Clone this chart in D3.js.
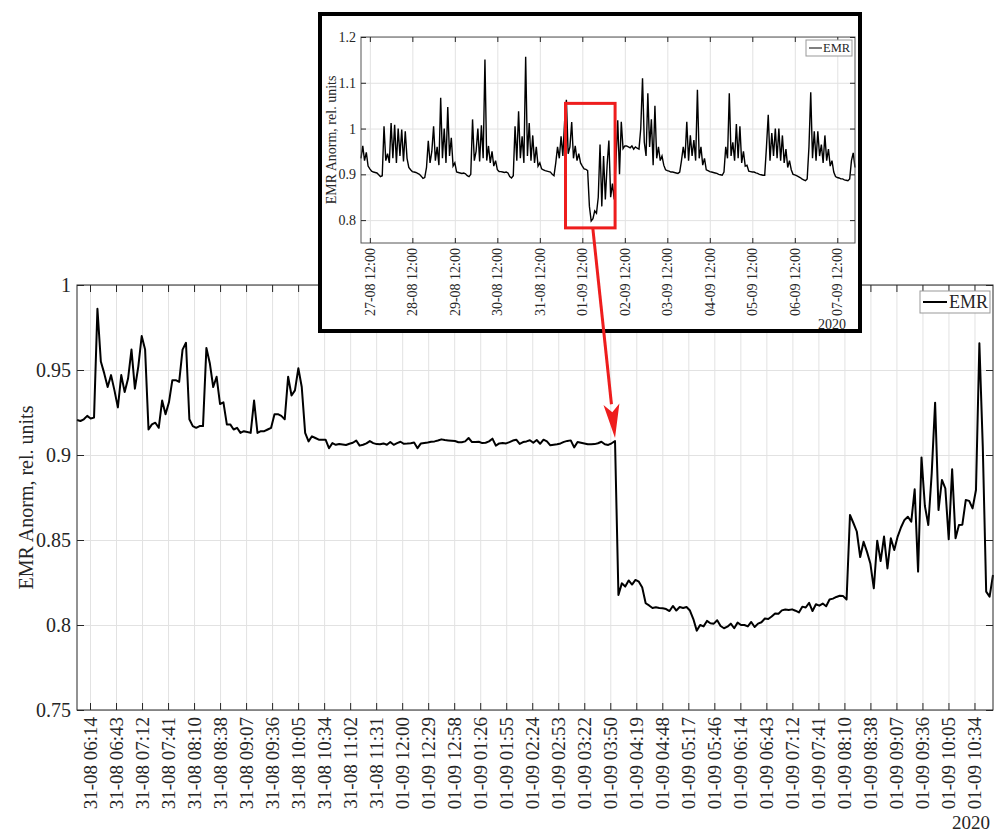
<!DOCTYPE html>
<html>
<head>
<meta charset="utf-8">
<script src="https://cdn.jsdelivr.net/npm/d3@7"></script>
<style>
  body { margin: 0; background: #fff; }
  svg { display: block; font-family: "Liberation Serif", "Times New Roman", serif; }
</style>
</head>
<body>
<svg id="chart" width="997" height="832"></svg>
<script>
// ---- data ----
// main panel: EMR samples, x measured in tick intervals (first sample half a tick before first label)
const mainTickLabels = [
  "31-08 06:14", "31-08 06:43", "31-08 07:12", "31-08 07:41", "31-08 08:10", "31-08 08:38",
  "31-08 09:07", "31-08 09:36", "31-08 10:05", "31-08 10:34", "31-08 11:02", "31-08 11:31",
  "01-09 12:00", "01-09 12:29", "01-09 12:58", "01-09 01:26", "01-09 01:55", "01-09 02:24",
  "01-09 02:53", "01-09 03:22", "01-09 03:50", "01-09 04:19", "01-09 04:48", "01-09 05:17",
  "01-09 05:46", "01-09 06:14", "01-09 06:43", "01-09 07:12", "01-09 07:41", "01-09 08:10",
  "01-09 08:38", "01-09 09:07", "01-09 09:36", "01-09 10:05", "01-09 10:34"
];
const mainYTicks = [0.75, 0.8, 0.85, 0.9, 0.95, 1];
const mainValues = [
  0.9206, 0.920, 0.921, 0.923, 0.9215, 0.922, 0.986, 0.955, 0.948, 0.940,
  0.947, 0.938, 0.928, 0.947, 0.937, 0.945, 0.962, 0.939, 0.952, 0.970,
  0.962, 0.915, 0.918, 0.919, 0.916, 0.932, 0.924, 0.931, 0.944, 0.944,
  0.943, 0.962, 0.966, 0.921, 0.917, 0.916, 0.917, 0.917, 0.963, 0.954,
  0.940, 0.946, 0.930, 0.931, 0.918, 0.918, 0.915, 0.916, 0.913, 0.914,
  0.9135, 0.913, 0.932, 0.913, 0.914, 0.914, 0.915, 0.916, 0.924, 0.924,
  0.923, 0.921, 0.946, 0.935, 0.938, 0.951, 0.940, 0.913, 0.908, 0.911,
  0.910, 0.909, 0.909, 0.909, 0.904, 0.907, 0.9060, 0.9065, 0.9062, 0.9059,
  0.9066, 0.9072, 0.9085, 0.9055, 0.9060, 0.9068, 0.9082, 0.9070, 0.9064, 0.9063,
  0.9068, 0.9060, 0.9076, 0.9060, 0.9070, 0.9078, 0.9066, 0.9067, 0.9069, 0.9073,
  0.9040, 0.9068, 0.9071, 0.9074, 0.9078, 0.9080, 0.9085, 0.9092, 0.9088, 0.9086,
  0.9084, 0.9082, 0.9075, 0.9075, 0.9080, 0.9100, 0.9076, 0.9076, 0.9078, 0.9070,
  0.9072, 0.9080, 0.9096, 0.9055, 0.9068, 0.9070, 0.9068, 0.9076, 0.9085, 0.9090,
  0.9065, 0.9076, 0.9080, 0.9087, 0.9072, 0.9088, 0.9066, 0.9090, 0.9080, 0.9057,
  0.9060, 0.9063, 0.9068, 0.9077, 0.9083, 0.9086, 0.9045, 0.9076, 0.9072, 0.9068,
  0.9063, 0.9063, 0.9064, 0.9069, 0.9078, 0.9063, 0.9059, 0.9069, 0.9082, 0.8177,
  0.8245, 0.8226, 0.8262, 0.8238, 0.8265, 0.8255, 0.8220, 0.8128, 0.8115, 0.8100,
  0.8104, 0.8100, 0.8098, 0.8094, 0.8082, 0.8112, 0.8085, 0.8106, 0.8100, 0.8106,
  0.8085, 0.8035, 0.7967, 0.8000, 0.7992, 0.8024, 0.8010, 0.8008, 0.8028, 0.7994,
  0.7981, 0.7990, 0.8008, 0.7981, 0.8014, 0.8000, 0.8000, 0.7992, 0.8018, 0.7988,
  0.8008, 0.8016, 0.8038, 0.8035, 0.8050, 0.8068, 0.8066, 0.8086, 0.8091, 0.8088,
  0.8092, 0.8084, 0.8074, 0.8108, 0.8103, 0.8130, 0.8082, 0.8122, 0.8114, 0.8126,
  0.8110, 0.8150, 0.8155, 0.8165, 0.8172, 0.8170, 0.8150, 0.8647, 0.8600, 0.8550,
  0.8400, 0.8490, 0.8430, 0.8360, 0.8216, 0.8496, 0.8376, 0.8520, 0.8333, 0.8510,
  0.8441, 0.8520, 0.8575, 0.8618, 0.8637, 0.8608, 0.8798, 0.8314, 0.8986, 0.8700,
  0.8588, 0.8892, 0.9308, 0.8676, 0.8853, 0.8804, 0.8504, 0.8916, 0.8510, 0.8588,
  0.8590, 0.8735, 0.8730, 0.8686, 0.8794, 0.9657, 0.9049, 0.8196, 0.8167, 0.8294
];
const mainStart = -0.5;     // in tick intervals
const mainStep = 0.1309;    // sample spacing in tick intervals

// inset: hourly EMR, hours counted from 27-08 12:00
const insetTickLabels = [
  "27-08 12:00", "28-08 12:00", "29-08 12:00", "30-08 12:00", "31-08 12:00", "01-09 12:00",
  "02-09 12:00", "03-09 12:00", "04-09 12:00", "05-09 12:00", "06-09 12:00", "07-09 12:00"
];
const insetYTicks = [0.8, 0.9, 1, 1.1, 1.2];
const insetValues = [
  0.935, 0.962, 0.930, 0.948, 0.918,
  0.912, 0.907, 0.905, 0.904, 0.903, 0.899, 0.895, 0.897,
  1.005, 0.930, 0.945, 0.925, 1.012, 0.935, 1.008, 0.925, 1.000, 0.940, 0.998, 0.928, 0.994, 0.935, 0.915,
  0.910, 0.906, 0.905, 0.904, 0.902, 0.900, 0.896, 0.891, 0.893,
  0.915, 0.973, 0.925, 0.950, 1.005, 0.930, 0.960, 0.920, 1.067, 0.935, 1.000, 0.925, 1.047, 0.940, 0.980, 0.918, 0.925,
  0.905, 0.904, 0.903, 0.902, 0.903, 0.901, 0.897, 0.895, 0.900,
  1.020, 0.930, 0.950, 1.000, 0.928, 1.007, 0.935, 1.151, 0.930, 0.962, 0.925, 0.950, 0.918, 0.930, 0.910,
  0.906, 0.906, 0.905, 0.904, 0.905, 0.903, 0.895, 0.892, 0.897,
  1.005, 0.930, 1.038, 0.935, 0.983, 0.925, 1.157, 0.940, 1.012, 0.930, 0.985, 0.925, 0.960, 0.918, 0.925,
  0.912, 0.910, 0.908, 0.907, 0.906, 0.905, 0.900, 0.897, 0.925,
  0.960, 0.935, 0.983, 0.940, 1.016, 1.063, 0.945, 0.960, 1.014, 0.935, 0.962, 0.930, 0.945, 0.925, 0.918,
  0.912, 0.911, 0.908, 0.830, 0.798,
  0.803, 0.820, 0.815, 0.850, 0.965, 0.830, 0.940, 0.845, 0.920, 0.974, 0.850, 0.880, 0.845,
  0.930, 1.018, 0.900, 1.015,
  0.956, 0.962, 0.962, 0.960, 0.958, 0.962, 0.955, 0.960, 0.957, 0.955,
  1.000, 1.110, 0.970, 0.940, 1.077, 0.960, 1.020, 0.920, 1.050, 0.935, 0.960, 0.930, 0.940, 0.920,
  0.910, 0.908, 0.907, 0.905, 0.905, 0.904, 0.903, 0.902, 0.905,
  0.930, 0.960, 0.935, 1.015, 0.930, 0.985, 0.940, 0.975, 0.930, 1.085, 0.935, 0.960, 0.920, 0.935, 0.910,
  0.908, 0.906, 0.905, 0.904, 0.903, 0.902, 0.900, 0.899, 0.898, 0.905,
  0.960, 0.935, 1.077, 0.940, 0.970, 0.930, 1.010, 0.935, 1.005, 0.925, 0.950, 0.918, 0.920,
  0.907, 0.906, 0.905, 0.905, 0.903, 0.902, 0.900, 0.899, 0.898, 0.898,
  0.960, 1.030, 0.930, 0.990, 0.940, 1.000, 0.935, 1.000, 0.930, 0.985, 0.925, 0.955, 0.915, 0.930, 0.910,
  0.900, 0.899, 0.897, 0.895, 0.893, 0.890, 0.888, 0.886, 0.890,
  0.960, 1.079, 0.935, 0.994, 0.930, 0.994, 0.940, 0.965, 0.925, 0.985, 0.930, 0.955, 0.918, 0.930, 0.905,
  0.895, 0.893, 0.892, 0.890, 0.890, 0.888, 0.887, 0.886, 0.890, 0.930, 0.947, 0.915
];
const insetStart = -5;      // hours
// highlighted window in the inset (hours, EMR)
const highlightHours = [110.5, 138.5];
const highlightEMR = [0.783, 1.055];

const mainData = mainValues.map((v, i) => ({t: mainStart + i * mainStep, v}));
const insetData = insetValues.map((v, i) => ({h: insetStart + i, v}));

const fmt = d => String(+d.toFixed(2));
const axisColor = "#262626";
const gridColor = "#e2e2e2";
const serif = '"Liberation Serif", "Times New Roman", serif';

const svg = d3.select("#chart");

// ---- main panel ----
const M = {left: 77, top: 285, right: 993, bottom: 710};

const x = d3.scaleLinear()
    .domain(d3.extent(mainData, d => d.t))
    .range([M.left, M.right]);

const y = d3.scaleLinear()
    .domain([0.75, 1])
    .range([M.bottom, M.top]);

const tickIdx = d3.range(mainTickLabels.length);

// grid
svg.append("g")
    .attr("transform", `translate(0,${M.bottom})`)
    .call(d3.axisBottom(x).tickValues(tickIdx).tickSize(-(M.bottom - M.top)).tickFormat(""))
    .call(g => g.select(".domain").remove())
    .call(g => g.selectAll("line").attr("stroke", gridColor));

svg.append("g")
    .attr("transform", `translate(${M.left},0)`)
    .call(d3.axisLeft(y).tickValues(mainYTicks).tickSize(-(M.right - M.left)).tickFormat(""))
    .call(g => g.select(".domain").remove())
    .call(g => g.selectAll("line").attr("stroke", gridColor));

// line
svg.append("path")
    .datum(mainData)
    .attr("fill", "none")
    .attr("stroke", "#000")
    .attr("stroke-width", 2)
    .attr("stroke-linejoin", "round")
    .attr("d", d3.line().x(d => x(d.t)).y(d => y(d.v)));

// box
svg.append("rect")
    .attr("x", M.left).attr("y", M.top)
    .attr("width", M.right - M.left).attr("height", M.bottom - M.top)
    .attr("fill", "none").attr("stroke", axisColor).attr("stroke-width", 1);

// bottom axis
svg.append("g")
    .attr("transform", `translate(0,${M.bottom})`)
    .call(d3.axisBottom(x).tickValues(tickIdx).tickFormat(i => mainTickLabels[i]).tickSize(-7))
    .call(g => g.select(".domain").remove())
    .call(g => g.selectAll("line").attr("stroke", axisColor))
    .call(g => g.selectAll("text")
        .attr("transform", "rotate(-90)")
        .attr("x", -7).attr("y", 0).attr("dy", "0.33em")
        .style("text-anchor", "end")
        .attr("fill", axisColor))
    .attr("font-family", serif).attr("font-size", 19);

// top axis ticks
svg.append("g")
    .attr("transform", `translate(0,${M.top})`)
    .call(d3.axisTop(x).tickValues(tickIdx).tickFormat("").tickSize(-7))
    .call(g => g.select(".domain").remove())
    .call(g => g.selectAll("line").attr("stroke", axisColor));

// left axis
svg.append("g")
    .attr("transform", `translate(${M.left},0)`)
    .call(d3.axisLeft(y).tickValues(mainYTicks).tickFormat(fmt).tickSize(-7).tickPadding(6))
    .call(g => g.select(".domain").remove())
    .call(g => g.selectAll("line").attr("stroke", axisColor))
    .call(g => g.selectAll("text").attr("fill", axisColor))
    .attr("font-family", serif).attr("font-size", 20);

// right axis ticks
svg.append("g")
    .attr("transform", `translate(${M.right},0)`)
    .call(d3.axisRight(y).tickValues(mainYTicks).tickFormat("").tickSize(-7))
    .call(g => g.select(".domain").remove())
    .call(g => g.selectAll("line").attr("stroke", axisColor));

// y label
svg.append("text")
    .attr("transform", `translate(33,${(M.top + M.bottom) / 2}) rotate(-90)`)
    .attr("text-anchor", "middle")
    .attr("font-size", 20)
    .attr("fill", axisColor)
    .text("EMR Anorm, rel. units");

// year
svg.append("text")
    .attr("x", 990).attr("y", 829)
    .attr("text-anchor", "end")
    .attr("font-size", 19)
    .attr("fill", axisColor)
    .text("2020");

// legend
const leg = svg.append("g").attr("transform", `translate(${M.right - 73},${M.top + 6})`);
leg.append("rect").attr("width", 70).attr("height", 22)
    .attr("fill", "#fff").attr("stroke", "#999").attr("stroke-width", 1);
leg.append("line").attr("x1", 3).attr("x2", 27).attr("y1", 11).attr("y2", 11)
    .attr("stroke", "#000").attr("stroke-width", 2);
leg.append("text").attr("x", 29).attr("y", 11).attr("dy", "0.35em")
    .attr("font-size", 18).attr("fill", axisColor).text("EMR");

// ---- inset ----
const frame = {x: 320, y: 14, w: 540, h: 317};
svg.append("rect")
    .attr("x", frame.x).attr("y", frame.y)
    .attr("width", frame.w).attr("height", frame.h)
    .attr("fill", "#fff").attr("stroke", "#000").attr("stroke-width", 4);

const I = {left: 361, top: 37, right: 855, bottom: 243};

const xi = d3.scaleLinear()
    .domain(d3.extent(insetData, d => d.h))
    .range([I.left, I.right]);

const yi = d3.scaleLinear()
    .domain([0.75, 1.2])
    .range([I.bottom, I.top]);

const insetTickHours = insetTickLabels.map((_, i) => i * 24);

svg.append("g")
    .attr("transform", `translate(0,${I.bottom})`)
    .call(d3.axisBottom(xi).tickValues(insetTickHours).tickSize(-(I.bottom - I.top)).tickFormat(""))
    .call(g => g.select(".domain").remove())
    .call(g => g.selectAll("line").attr("stroke", gridColor));

svg.append("g")
    .attr("transform", `translate(${I.left},0)`)
    .call(d3.axisLeft(yi).tickValues(insetYTicks).tickSize(-(I.right - I.left)).tickFormat(""))
    .call(g => g.select(".domain").remove())
    .call(g => g.selectAll("line").attr("stroke", gridColor));

svg.append("path")
    .datum(insetData)
    .attr("fill", "none")
    .attr("stroke", "#000")
    .attr("stroke-width", 1.4)
    .attr("d", d3.line().x(d => xi(d.h)).y(d => yi(d.v)));

svg.append("rect")
    .attr("x", I.left).attr("y", I.top)
    .attr("width", I.right - I.left).attr("height", I.bottom - I.top)
    .attr("fill", "none").attr("stroke", "#555").attr("stroke-width", 1);

svg.append("g")
    .attr("transform", `translate(0,${I.bottom})`)
    .call(d3.axisBottom(xi).tickValues(insetTickHours).tickFormat((d, i) => insetTickLabels[i]).tickSize(-5))
    .call(g => g.select(".domain").remove())
    .call(g => g.selectAll("line").attr("stroke", axisColor))
    .call(g => g.selectAll("text")
        .attr("transform", "rotate(-90)")
        .attr("x", -5).attr("y", 0).attr("dy", "0.33em")
        .style("text-anchor", "end")
        .attr("fill", axisColor))
    .attr("font-family", serif).attr("font-size", 14);

svg.append("g")
    .attr("transform", `translate(0,${I.top})`)
    .call(d3.axisTop(xi).tickValues(insetTickHours).tickFormat("").tickSize(-5))
    .call(g => g.select(".domain").remove())
    .call(g => g.selectAll("line").attr("stroke", axisColor));

svg.append("g")
    .attr("transform", `translate(${I.left},0)`)
    .call(d3.axisLeft(yi).tickValues(insetYTicks).tickFormat(fmt).tickSize(-5).tickPadding(5))
    .call(g => g.select(".domain").remove())
    .call(g => g.selectAll("line").attr("stroke", axisColor))
    .call(g => g.selectAll("text").attr("fill", axisColor))
    .attr("font-family", serif).attr("font-size", 14);

svg.append("g")
    .attr("transform", `translate(${I.right},0)`)
    .call(d3.axisRight(yi).tickValues(insetYTicks).tickFormat("").tickSize(-5))
    .call(g => g.select(".domain").remove())
    .call(g => g.selectAll("line").attr("stroke", axisColor));

svg.append("text")
    .attr("transform", `translate(336,${(I.top + I.bottom) / 2}) rotate(-90)`)
    .attr("text-anchor", "middle")
    .attr("font-size", 14)
    .attr("fill", axisColor)
    .text("EMR Anorm, rel. units");

svg.append("text")
    .attr("x", 846).attr("y", 329)
    .attr("text-anchor", "end")
    .attr("font-size", 14)
    .attr("fill", axisColor)
    .text("2020");

const ileg = svg.append("g").attr("transform", `translate(${I.right - 49},${I.top + 3})`);
ileg.append("rect").attr("width", 46).attr("height", 16)
    .attr("fill", "#fff").attr("stroke", "#999").attr("stroke-width", 1);
ileg.append("line").attr("x1", 3).attr("x2", 16).attr("y1", 8).attr("y2", 8)
    .attr("stroke", "#000").attr("stroke-width", 1);
ileg.append("text").attr("x", 17).attr("y", 8).attr("dy", "0.35em")
    .attr("font-size", 12.5).attr("fill", axisColor).text("EMR");

// ---- highlight box and arrow ----
const red = "#ee1d1d";
const hx0 = xi(highlightHours[0]), hx1 = xi(highlightHours[1]);
const hy0 = yi(highlightEMR[1]), hy1 = yi(highlightEMR[0]);
svg.append("rect")
    .attr("x", hx0).attr("y", hy0)
    .attr("width", hx1 - hx0).attr("height", hy1 - hy0)
    .attr("fill", "none").attr("stroke", red).attr("stroke-width", 3);

// arrow from bottom of the box to the drop point in the main panel
const dropIdx = d3.range(1, mainData.length)
    .reduce((a, i) => (mainData[i - 1].v - mainData[i].v > mainData[a - 1].v - mainData[a].v ? i : a), 1) - 1;
const start = [hx0 + (hx1 - hx0) * 0.55, hy1];
const tip = [x(mainData[dropIdx].t), y(mainData[dropIdx].v) - 3];
const dx = tip[0] - start[0], dy = tip[1] - start[1];
const len = Math.hypot(dx, dy);
const ux = dx / len, uy = dy / len;
const headLen = 34, headW = 8;
const base = [tip[0] - ux * headLen, tip[1] - uy * headLen];

svg.append("line")
    .attr("x1", start[0]).attr("y1", start[1])
    .attr("x2", base[0]).attr("y2", base[1])
    .attr("stroke", red).attr("stroke-width", 3);

svg.append("path")
    .attr("d", d3.line()([
        tip,
        [base[0] - uy * headW, base[1] + ux * headW],
        [base[0] + ux * 8, base[1] + uy * 8],
        [base[0] + uy * headW, base[1] - ux * headW]
    ]) + "Z")
    .attr("fill", red);
</script>
</body>
</html>
